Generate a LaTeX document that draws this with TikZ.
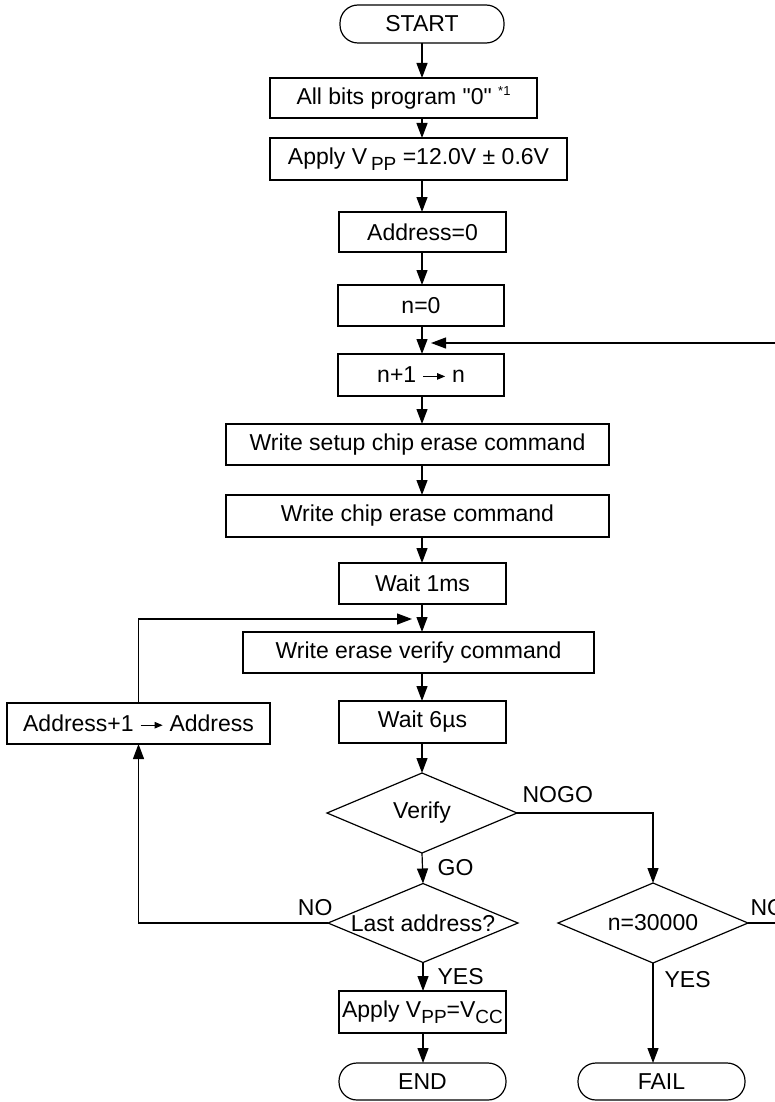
\documentclass[tikz,border=0pt]{standalone}
\usepackage{fontspec}
\setmainfont{Liberation Sans}
\usetikzlibrary{arrows.meta,shapes.geometric}
\newcommand{\lowsub}[1]{\raisebox{-0.28em}{\fontsize{19}{19}\selectfont #1}}
\newcommand{\hisup}[1]{\raisebox{0.38em}{\fontsize{13}{13}\selectfont #1}}
\newcommand{\sq}{\XeTeXglyph\XeTeXcharglyph"22\relax}
\newcommand{\rarr}{\tikz[baseline={(0,-6.5pt)}, x=1pt, y=1pt]\draw[line width=1pt, -{Triangle[length=8pt,width=6.5pt]}] (0,0) -- (22,0);}
\begin{document}
\begin{tikzpicture}[x=1pt,y=-1pt,line width=1.2pt,
  font=\fontsize{23}{27}\selectfont,
  box/.style={draw, fill=white, inner sep=0pt, outer sep=0pt},
  term/.style={box, rounded corners=18pt},
  dia/.style={draw, diamond, minimum width=190pt, minimum height=80pt, inner sep=0pt, outer sep=0pt},
  arr/.style={-{Triangle[length=15pt,width=11pt]}},
  lab/.style={inner sep=0pt}
]
\useasboundingbox (0,0) rectangle (775,1102);
\coordinate (ax) at (422,0);

\node[term, minimum width=164pt, minimum height=38pt] (start) at (422,24) {START};
\node[box, minimum width=267pt, minimum height=40pt] (allbits) at (403.5,98) {All bits program \sq0\sq\ \hisup{*1}};
\node[box, minimum width=297pt, minimum height=42pt] (applyvpp) at (418.5,159) {Apply V\,\lowsub{PP} =12.0V ± 0.6V};
\node[box, minimum width=167pt, minimum height=40pt] (addr0) at (422.5,232) {Address=0};
\node[box, minimum width=166pt, minimum height=41pt] (nzero) at (421,305.5) {n=0};
\node[box, minimum width=166pt, minimum height=42pt] (ninc) at (421,375) {n+1 \rarr\ n};
\node[box, minimum width=383pt, minimum height=41pt] (wsetup) at (417.5,444.5) {Write setup chip erase command};
\node[box, minimum width=383pt, minimum height=42pt] (wchip) at (417.5,516) {Write chip erase command};
\node[box, minimum width=167pt, minimum height=41pt] (wait1) at (422.5,583.5) {Wait 1ms};
\node[box, minimum width=351pt, minimum height=41pt] (wverify) at (418.5,652.5) {Write erase verify command};
\node[box, minimum width=167pt, minimum height=42pt] (wait6) at (422.5,722) {Wait 6µs};
\node[box, minimum width=263pt, minimum height=41pt] (addrinc) at (138.5,723.5) {Address+1 \rarr\ Address};
\node[dia, label={center:Verify}] (verify) at (422,813) {};
\node[dia, minimum height=79pt, label={center:Last address?}] (last) at (423,923) {};
\node[box, minimum width=167pt, minimum height=42pt] (applyvcc) at (422.5,1012) {Apply V\lowsub{PP}=V\lowsub{CC}};
\node[term, minimum width=167pt, minimum height=37pt] (endn) at (422.5,1081.5) {END};
\node[dia, label={center:n=30000}] (n3) at (653,923) {};
\node[term, minimum width=167pt, minimum height=37pt] (fail) at (661.5,1081.5) {FAIL};

% main column
\draw[arr] (ax |- start.south) -- (ax |- allbits.north);
\draw[arr] (ax |- allbits.south) -- (ax |- applyvpp.north);
\draw[arr] (ax |- applyvpp.south) -- (ax |- addr0.north);
\draw[arr] (ax |- addr0.south) -- (ax |- nzero.north);
\draw[arr] (ax |- nzero.south) -- (ax |- ninc.north);
\draw[arr] (ax |- ninc.south) -- (ax |- wsetup.north);
\draw[arr] (ax |- wsetup.south) -- (ax |- wchip.north);
\draw[arr] (ax |- wchip.south) -- (ax |- wait1.north);
\draw[arr] (ax |- wait1.south) -- (ax |- wverify.north);
\draw[arr] (ax |- wverify.south) -- (ax |- wait6.north);
\draw[arr] (ax |- wait6.south) -- (verify.north);
\draw[arr] (verify.south) -- (last.north);
\draw[arr] (last.south) -- (last.south |- applyvcc.north);
\draw[arr] (last.south |- applyvcc.south) -- (last.south |- endn.north);

% loops
\coordinate (rin) at (790,343);
\coordinate (rtip) at (431,343);
\draw[arr] (rin) -- (rtip);
\coordinate (ltip) at (412,619);
\draw[arr] (addrinc.north) |- (ltip);
\draw[arr] (last.west) -| (addrinc.south);
\draw[arr] (verify.east) -| (n3.north);
\coordinate (redge) at (790,923);
\draw (n3.east) -- (redge);
\draw[arr] (n3.south) -- (n3.south |- fail.north);

% labels
\node[lab, anchor=west] at (522,795) {NOGO};
\node[lab, anchor=west] at (437,868) {GO};
\node[lab, anchor=west] at (437,977) {YES};
\node[lab, anchor=east] at (333,908) {NO};
\node[lab, anchor=west] at (750,908) {NO};
\node[lab, anchor=west] at (664,980) {YES};
\end{tikzpicture}
\end{document}
